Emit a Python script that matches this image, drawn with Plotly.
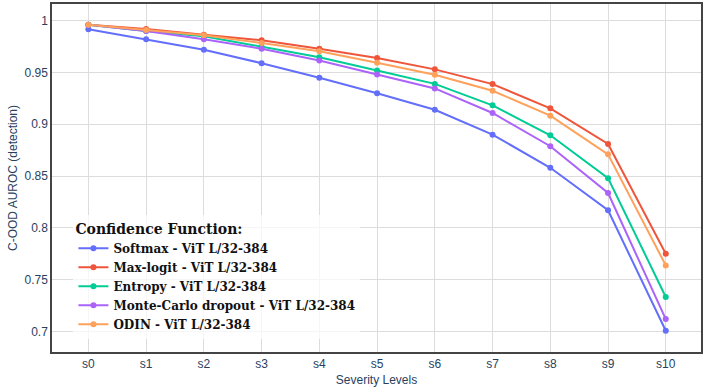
import plotly.graph_objects as go

levels = ["s0", "s1", "s2", "s3", "s4", "s5", "s6", "s7", "s8", "s9", "s10"]

softmax = [0.9917, 0.982, 0.972, 0.959, 0.945, 0.930, 0.914, 0.890, 0.858, 0.817, 0.7007]
maxlogit = [0.996, 0.992, 0.9865, 0.981, 0.973, 0.964, 0.953, 0.9388, 0.9154, 0.881, 0.775]
entropy = [0.996, 0.990, 0.9850, 0.9745, 0.9647, 0.952, 0.939, 0.9183, 0.8894, 0.848, 0.7333]
mcdropout = [0.996, 0.990, 0.982, 0.973, 0.9615, 0.948, 0.9346, 0.9109, 0.8788, 0.8337, 0.712]
odin = [0.996, 0.991, 0.986, 0.9785, 0.9705, 0.9593, 0.9478, 0.9324, 0.9083, 0.871, 0.7638]

series = [
    ("Softmax - ViT L/32-384", softmax, "#636EFA"),
    ("Max-logit - ViT L/32-384", maxlogit, "#EF553B"),
    ("Entropy - ViT L/32-384", entropy, "#00CC96"),
    ("Monte-Carlo dropout - ViT L/32-384", mcdropout, "#AB63FA"),
    ("ODIN - ViT L/32-384", odin, "#FFA15A"),
]

fig = go.Figure()
for name, vals, color in series:
    fig.add_trace(go.Scatter(
        x=list(range(len(levels))), y=vals, name=name, mode="lines+markers",
        line=dict(color=color, width=2), marker=dict(color=color, size=6),
    ))

serif = "DejaVu Serif, serif"
fig.update_layout(
    width=704, height=387,
    template="plotly_white",
    margin=dict(l=52, r=1, t=4, b=33),
    font=dict(family="Liberation Sans, Arial, sans-serif", size=12, color="#2a3f5f"),
    legend=dict(
        title=dict(text="<b>Confidence Function:</b>",
                   font=dict(family=serif, size=14, color="#111", weight="bold")),
        font=dict(family=serif, size=12, color="#111", weight="bold"),
        x=0.033, y=0.036, xanchor="left", yanchor="bottom",
        bgcolor="rgba(255,255,255,0.75)",
        tracegroupgap=0,
    ),
    xaxis=dict(
        title=dict(text="Severity Levels", standoff=6, font=dict(size=12)),
        tickmode="array", tickvals=list(range(len(levels))), ticktext=levels,
        range=[-0.63, 10.61],
        showgrid=True, gridcolor="#dcdcdc", gridwidth=1,
        showline=True, linecolor="#444", linewidth=1.5, mirror=True,
        zeroline=False,
    ),
    yaxis=dict(
        title=dict(text="C-OOD AUROC (detection)", standoff=4, font=dict(size=12)),
        range=[0.6802, 1.0161],
        tickvals=[0.7, 0.75, 0.8, 0.85, 0.9, 0.95, 1.0],
        ticktext=["0.7", "0.75", "0.8", "0.85", "0.9", "0.95", "1"],
        showgrid=True, gridcolor="#dcdcdc", gridwidth=1,
        showline=True, linecolor="#444", linewidth=1.5, mirror=True,
        zeroline=False,
    ),
)

fig.write_html("out.html")
